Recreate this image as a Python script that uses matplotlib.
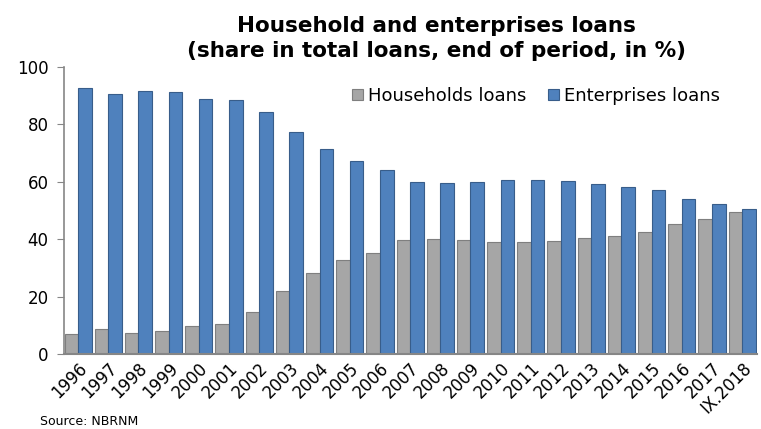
import matplotlib
matplotlib.use("Agg")
import matplotlib.pyplot as plt
import numpy as np

categories = ["1996", "1997", "1998", "1999", "2000", "2001", "2002", "2003", "2004",
              "2005", "2006", "2007", "2008", "2009", "2010", "2011", "2012", "2013",
              "2014", "2015", "2016", "2017", "IX.2018"]
households = [6.9, 8.7, 7.2, 7.9, 9.8, 10.5, 14.6, 22.0, 28.2, 32.8, 35.3, 39.6, 40.2,
              39.6, 38.9, 38.9, 39.2, 40.5, 41.1, 42.5, 45.3, 47.0, 49.3]
enterprises = [92.6, 90.7, 91.7, 91.4, 88.7, 88.5, 84.2, 77.2, 71.3, 67.1, 64.2, 60.0,
               59.5, 60.0, 60.6, 60.6, 60.3, 59.1, 58.1, 57.1, 53.9, 52.4, 50.4]
yticks = [0, 20, 40, 60, 80, 100]

plt.rcParams['font.family'] = ['DejaVu Sans']

fig = plt.figure(figsize=(7.61, 4.29), dpi=100)
ax = fig.add_axes([0.084, 0.175, 0.911, 0.669])

x = np.arange(len(categories))
w = 0.45
ax.bar(x - w / 2, households, width=w, color="#A6A6A6", edgecolor="#7F7F7F",
       linewidth=0.8, label="Households loans")
ax.bar(x + w / 2, enterprises, width=w, color="#4F81BD", edgecolor="#385D8A",
       linewidth=0.8, label="Enterprises loans")

ax.set_ylim(0, 100)
ax.set_xlim(-0.47, len(categories) - 0.5)
ax.set_yticks(yticks)
ax.set_yticklabels([str(v) for v in yticks], fontsize=12)
ax.set_xticks(x)
ax.set_xticklabels(categories, rotation=45, ha="right", rotation_mode="anchor", fontsize=12)
ax.tick_params(axis="x", length=0, pad=4)
ax.tick_params(axis="y", length=5, color="#868686", direction="out", pad=6)

for s in ["top", "right"]:
    ax.spines[s].set_visible(False)
ax.spines["left"].set_color("#868686")
ax.spines["bottom"].set_color("#868686")
ax.spines["left"].set_linewidth(1.2)
ax.spines["bottom"].set_linewidth(1.5)

leg = ax.legend(loc="center right", bbox_to_anchor=(0.96, 0.9), ncol=2, frameon=False,
                fontsize=13, handlelength=0.6, handleheight=0.6, handletextpad=0.3,
                columnspacing=1.2, borderpad=0)

fig.text(0.574, 0.962, "Household and enterprises loans\n(share in total loans, end of period, in %)",
         ha="center", va="top", fontsize=15.5, fontweight="bold", linespacing=1.3)
fig.text(0.053, 0.003, "Source: NBRNM", ha="left", va="bottom", fontsize=9)

fig.savefig("out.png", dpi=100)
